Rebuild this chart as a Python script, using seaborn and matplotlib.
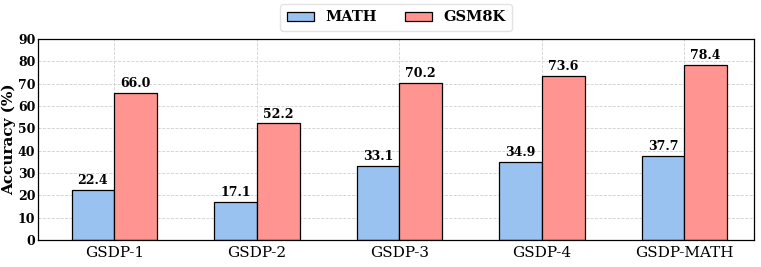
import matplotlib
matplotlib.use("Agg")
import matplotlib.pyplot as plt
import seaborn as sns
import pandas as pd

categories = ["GSDP-1", "GSDP-2", "GSDP-3", "GSDP-4", "GSDP-MATH"]
math_vals = [22.4, 17.1, 33.1, 34.9, 37.7]
gsm8k_vals = [66.0, 52.2, 70.2, 73.6, 78.4]
series = ["MATH", "GSM8K"]
colors = ["#99c2f0", "#ff9490"]

df = pd.DataFrame({
    "cat": categories * 2,
    "val": math_vals + gsm8k_vals,
    "series": [series[0]] * len(categories) + [series[1]] * len(categories),
})

sns.set_style("white")
plt.rcParams["font.family"] = ["DejaVu Serif"]
plt.rcParams["text.color"] = "black"
plt.rcParams["axes.labelcolor"] = "black"
plt.rcParams["xtick.color"] = "black"
plt.rcParams["ytick.color"] = "black"

fig = plt.figure(figsize=(7.61, 2.67), dpi=100)
ax = fig.add_axes([0.050, 0.101, 0.941, 0.753])
sns.barplot(data=df, x="cat", y="val", hue="series", palette=colors,
            saturation=1, width=0.6, edgecolor="black", linewidth=0.9,
            ax=ax, legend=True)

for cont in ax.containers:
    ax.bar_label(cont, fmt="%.1f", padding=2, fontsize=9, fontweight="bold",
                 color="black")

ax.set_ylim(0, 90)
ax.set_yticks(range(0, 91, 10))
ax.set_xlim(-0.535, 4.49)
ax.set_xlabel("")
ax.set_ylabel("Accuracy (%)", fontsize=11, fontweight="bold", labelpad=1)
ax.tick_params(axis="y", labelsize=9, length=0, left=False, pad=2)
for t in ax.get_yticklabels():
    t.set_fontweight("bold")
ax.tick_params(axis="x", labelsize=11, length=0, pad=4)
ax.grid(True, linestyle="--", color="#d0d0d0", linewidth=0.6)
ax.set_axisbelow(True)
for s in ax.spines.values():
    s.set_color("black")
    s.set_linewidth(0.9)

ax.legend(loc="lower center", bbox_to_anchor=(0.5, 1.04), ncol=2, frameon=True,
          prop={"weight": "bold", "size": 10.5}, handlelength=1.9,
          handleheight=0.6, handletextpad=0.75, columnspacing=1.9,
          edgecolor="#dddddd", fancybox=True, borderpad=0.45,
          borderaxespad=0)

fig.savefig("out.png", dpi=100)
